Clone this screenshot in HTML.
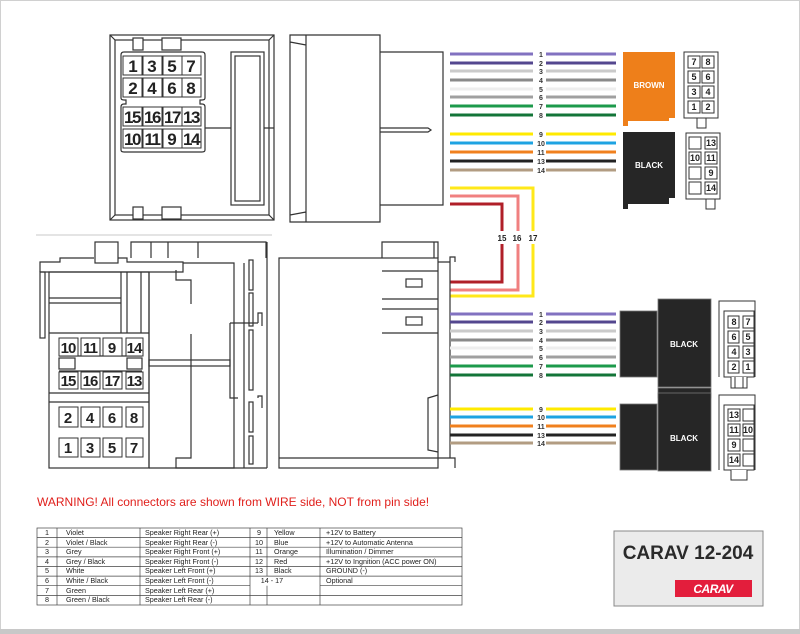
<!DOCTYPE html>
<html><head><meta charset="utf-8"><style>
html,body{margin:0;padding:0;background:#fff}
svg{display:block}
text{font-family:"Liberation Sans",sans-serif}
</style></head><body>
<svg width="800" height="634" viewBox="0 0 800 634" xmlns="http://www.w3.org/2000/svg">
<rect x="0.5" y="0.5" width="799" height="633" fill="#fff" stroke="#d0d0d0"/>
<rect x="0" y="629" width="800" height="5" fill="#c8c8c8"/>

<!-- Top-left connector -->
<g fill="none" stroke="#333" stroke-width="1.2">
<rect x="110" y="35" width="164" height="185"/>
<rect x="115" y="40" width="154" height="175"/>
<path d="M110 35 L115 40 M274 35 L269 40 M110 220 L115 215 M274 220 L269 215"/>
<rect x="133" y="38" width="10" height="12" fill="#fff"/>
<rect x="162" y="38" width="19" height="12" fill="#fff"/>
<rect x="133" y="207" width="10" height="12" fill="#fff"/>
<rect x="162" y="207" width="19" height="12" fill="#fff"/>
<path d="M124 52 H202 Q205 52 205 55 V98 Q205 100 202 100 H200 V104 H202 Q205 104 205 107 V150 Q205 152 202 152 H124 Q121 152 121 150 V107 Q121 104 124 104 H126 V100 H124 Q121 100 121 98 V55 Q121 52 124 52 Z"/>
<rect x="231" y="52" width="33" height="153"/>
<rect x="235" y="56" width="25" height="145"/>
<path d="M205 128 H231 M264 128 H274"/>
<path d="M290 35 H380 V222 H290 Z M306 35 V222 M290 42 L306 45 M290 215 L306 212 M380 52 H443 V205 H380 M380 128 H428 L431 130 L428 132 H380"/>
</g>
<g font-weight="bold" font-size="17" text-anchor="middle" fill="#222">
<g fill="#fff" stroke="#333" stroke-width="1"><rect x="123" y="56" width="19" height="19"/><rect x="143" y="56" width="19" height="19"/><rect x="163" y="56" width="19" height="19"/><rect x="182" y="56" width="19" height="19"/>
<rect x="123" y="78" width="19" height="19"/><rect x="143" y="78" width="19" height="19"/><rect x="163" y="78" width="19" height="19"/><rect x="182" y="78" width="19" height="19"/>
<rect x="123" y="107" width="19" height="19"/><rect x="143" y="107" width="19" height="19"/><rect x="163" y="107" width="19" height="19"/><rect x="182" y="107" width="19" height="19"/>
<rect x="123" y="129" width="19" height="19"/><rect x="143" y="129" width="19" height="19"/><rect x="163" y="129" width="19" height="19"/><rect x="182" y="129" width="19" height="19"/></g>
<text x="133" y="72">1</text><text x="152" y="72">3</text><text x="172" y="72">5</text><text x="191" y="72">7</text>
<text x="133" y="94">2</text><text x="152" y="94">4</text><text x="172" y="94">6</text><text x="191" y="94">8</text>
<g letter-spacing="-1.5"><text x="132" y="123">15</text><text x="152" y="123">16</text><text x="172" y="123">17</text><text x="191" y="123">13</text>
<text x="132" y="145">10</text><text x="152" y="145">11</text></g><text x="172" y="145">9</text><text x="191" y="145" letter-spacing="-1.5">14</text>
</g>

<!-- top wires -->
<g stroke-width="3">
<path d="M450 54H533M546 54H616" stroke="#8272c0"/>
<path d="M450 63H533M546 63H616" stroke="#54478f"/>
<path d="M450 71H533M546 71H616" stroke="#cacaca"/>
<path d="M450 80H533M546 80H616" stroke="#8a8a8a"/>
<path d="M450 89H533M546 89H616" stroke="#eeeeee"/>
<path d="M450 97H533M546 97H616" stroke="#a0a0a0"/>
<path d="M450 106H533M546 106H616" stroke="#1d9a4b"/>
<path d="M450 115H533M546 115H616" stroke="#137538"/>
<path d="M450 134H533M546 134H616" stroke="#ffea00"/>
<path d="M450 143H533M546 143H616" stroke="#1ea3e2"/>
<path d="M450 152H533M546 152H616" stroke="#f0801e"/>
<path d="M450 161H533M546 161H616" stroke="#232323"/>
<path d="M450 170H533M546 170H616" stroke="#b29c82"/>
</g>
<g font-size="7" font-weight="bold" text-anchor="middle" fill="#333">
<text x="541" y="57">1</text><text x="541" y="66">2</text><text x="541" y="74">3</text><text x="541" y="83">4</text><text x="541" y="92">5</text><text x="541" y="100">6</text><text x="541" y="109">7</text><text x="541" y="118">8</text>
<text x="541" y="137">9</text><text x="541" y="146">10</text><text x="541" y="155">11</text><text x="541" y="164">13</text><text x="541" y="173">14</text>
</g>
<!-- 15 16 17 -->
<g fill="none" stroke-width="3">
<path d="M450 188H533V231M533 244V296H450" stroke="#ffe81a"/>
<path d="M450 196H518V231M518 244V290H450" stroke="#f08080"/>
<path d="M450 204H502V231M502 244V282H450" stroke="#b01f28"/>
</g>
<g font-size="8" font-weight="bold" text-anchor="middle" fill="#222"><text x="502" y="241">15</text><text x="517" y="241">16</text><text x="533" y="241">17</text></g>

<!-- brown/black connectors top -->
<path d="M623 52H675V118H669V121H628V126H623Z" fill="#ee7f1a"/>
<text x="649" y="88" font-size="8" font-weight="bold" fill="#fff" text-anchor="middle">BROWN</text>
<path d="M623 132H675V198H669V204H628V209H623Z" fill="#262626"/>
<text x="649" y="168" font-size="8" font-weight="bold" fill="#fff" text-anchor="middle">BLACK</text>
<g fill="#fff" stroke="#333" stroke-width="1">
<rect x="684" y="52" width="34" height="66"/>
<rect x="697" y="118" width="9" height="10"/>
<rect x="686" y="133" width="34" height="66"/>
<rect x="706" y="199" width="9" height="10"/>
</g>
<g font-size="9" font-weight="bold" text-anchor="middle" fill="#222">
<g fill="#fff" stroke="#333" stroke-width="1">
<rect x="688" y="56" width="12" height="12"/><rect x="702" y="56" width="12" height="12"/>
<rect x="688" y="71" width="12" height="12"/><rect x="702" y="71" width="12" height="12"/>
<rect x="688" y="86" width="12" height="12"/><rect x="702" y="86" width="12" height="12"/>
<rect x="688" y="101" width="12" height="12"/><rect x="702" y="101" width="12" height="12"/>
<rect x="689" y="137" width="12" height="12"/><rect x="705" y="137" width="12" height="12"/>
<rect x="689" y="152" width="12" height="12"/><rect x="705" y="152" width="12" height="12"/>
<rect x="689" y="167" width="12" height="12"/><rect x="705" y="167" width="12" height="12"/>
<rect x="689" y="182" width="12" height="12"/><rect x="705" y="182" width="12" height="12"/></g>
<text x="694" y="65">7</text><text x="708" y="65">8</text><text x="694" y="80">5</text><text x="708" y="80">6</text>
<text x="694" y="95">3</text><text x="708" y="95">4</text><text x="694" y="110">1</text><text x="708" y="110">2</text>
<text x="711" y="146">13</text><text x="695" y="161">10</text><text x="711" y="161">11</text><text x="711" y="176">9</text><text x="711" y="191">14</text>
</g>

<!-- bottom-left connector -->
<path d="M36 235H272" stroke="#e4e4e4" stroke-width="2"/>
<g fill="none" stroke="#333" stroke-width="1.2">
<rect x="95" y="242" width="23" height="21"/>
<path d="M131 258V242H266V258M151 242V258M168 242V258M198 242V258"/>
<path d="M40 272V262H60V258H94M118 258H127V262H183V272H40"/>
<rect x="40" y="272" width="5" height="66"/>
<rect x="49" y="272" width="100" height="196"/>
<path d="M121 272V333M127 272V333M141 272V333M49 298H121M49 303H121M49 333H149M49 393H149M49 402H149"/>
<path d="M149 272V468M183 263H234V468H176V458H191V334M191 304V280H176V270"/>
<path d="M244 263V468M267 242V468M149 468H267"/>
<rect x="149" y="360" width="81" height="6"/>
<path d="M230 323V398H238"/>
<path d="M230 323H258"/>
<rect x="249" y="260" width="4" height="30"/><rect x="249" y="293" width="4" height="33"/><rect x="249" y="330" width="4" height="60"/><rect x="249" y="402" width="4" height="30"/><rect x="249" y="436" width="4" height="28"/>
<path d="M258 323V313H262V326M258 398V396H262V408"/>
<rect x="59" y="358" width="16" height="11"/><rect x="127" y="358" width="15" height="11"/>
<path d="M59 356H142M59 371H142"/>
</g>
<g font-weight="bold" font-size="15" text-anchor="middle" fill="#222">
<g fill="#fff" stroke="#333" stroke-width="1">
<rect x="59" y="338" width="19" height="18"/><rect x="81" y="338" width="19" height="18"/><rect x="103" y="338" width="19" height="18"/><rect x="126" y="338" width="17" height="18"/>
<rect x="59" y="372" width="19" height="17"/><rect x="81" y="372" width="19" height="17"/><rect x="103" y="372" width="19" height="17"/><rect x="126" y="372" width="17" height="17"/>
<rect x="59" y="407" width="19" height="20"/><rect x="81" y="407" width="19" height="20"/><rect x="103" y="407" width="19" height="20"/><rect x="126" y="407" width="17" height="20"/>
<rect x="59" y="438" width="19" height="19"/><rect x="81" y="438" width="19" height="19"/><rect x="103" y="438" width="19" height="19"/><rect x="126" y="438" width="17" height="19"/></g>
<g letter-spacing="-1"><text x="68" y="353">10</text><text x="90" y="353">11</text><text x="134" y="353">14</text>
<text x="68" y="386">15</text><text x="90" y="386">16</text><text x="112" y="386">17</text><text x="134" y="386">13</text></g>
<text x="112" y="353">9</text>
<text x="68" y="423">2</text><text x="90" y="423">4</text><text x="112" y="423">6</text><text x="134" y="423">8</text>
<text x="68" y="453">1</text><text x="90" y="453">3</text><text x="112" y="453">5</text><text x="134" y="453">7</text>
</g>

<!-- bottom side view -->
<g fill="none" stroke="#333" stroke-width="1.2">
<rect x="279" y="258" width="159" height="210"/>
<path d="M279 458H438M382 258V242H434V258M434 242H438V258M438 262H450V458H450M438 458H455V468M450 262V257H455V262"/>
<path d="M382 271H438M382 299H438M382 309H438M382 333H438M438 395L428 398V450L438 452"/>
<rect x="406" y="279" width="16" height="8"/><rect x="406" y="317" width="16" height="8"/>
</g>

<!-- bottom wires -->
<g stroke-width="3">
<path d="M450 314H533M546 314H616" stroke="#8272c0"/>
<path d="M450 322H533M546 322H616" stroke="#54478f"/>
<path d="M450 331H533M546 331H616" stroke="#cacaca"/>
<path d="M450 340H533M546 340H616" stroke="#8a8a8a"/>
<path d="M450 348H533M546 348H616" stroke="#eeeeee"/>
<path d="M450 357H533M546 357H616" stroke="#a0a0a0"/>
<path d="M450 366H533M546 366H616" stroke="#1d9a4b"/>
<path d="M450 375H533M546 375H616" stroke="#137538"/>
<path d="M450 409H533M546 409H616" stroke="#ffea00"/>
<path d="M450 417H533M546 417H616" stroke="#1ea3e2"/>
<path d="M450 426H533M546 426H616" stroke="#f0801e"/>
<path d="M450 435H533M546 435H616" stroke="#232323"/>
<path d="M450 443H533M546 443H616" stroke="#b29c82"/>
</g>
<g font-size="7" font-weight="bold" text-anchor="middle" fill="#333">
<text x="541" y="317">1</text><text x="541" y="325">2</text><text x="541" y="334">3</text><text x="541" y="343">4</text><text x="541" y="351">5</text><text x="541" y="360">6</text><text x="541" y="369">7</text><text x="541" y="378">8</text>
<text x="541" y="412">9</text><text x="541" y="420">10</text><text x="541" y="429">11</text><text x="541" y="438">13</text><text x="541" y="446">14</text>
</g>
<g fill="#262626" stroke="#777" stroke-width="0.8">
<rect x="620" y="311" width="37" height="66"/><rect x="658" y="299" width="53" height="88"/><rect x="658" y="388" width="53" height="10"/>
<rect x="620" y="404" width="37" height="66"/><rect x="658" y="393" width="53" height="78"/>
</g>
<g font-size="8" font-weight="bold" fill="#fff" text-anchor="middle"><text x="684" y="347">BLACK</text><text x="684" y="441">BLACK</text></g>
<g fill="#fff" stroke="#333" stroke-width="1">
<path d="M719 377V301H755V377"/><rect x="724" y="311" width="30" height="66"/><path d="M731 377V388H747V377M735 377V388H743V377"/>
<path d="M719 470V395H755V470"/><rect x="724" y="405" width="30" height="65"/><path d="M731 470V480H747V470"/>
</g>
<g font-size="9" font-weight="bold" text-anchor="middle" fill="#222">
<g fill="#fff" stroke="#333" stroke-width="1">
<rect x="728" y="316" width="11" height="12"/><rect x="743" y="316" width="11" height="12"/>
<rect x="728" y="331" width="11" height="12"/><rect x="743" y="331" width="11" height="12"/>
<rect x="728" y="346" width="11" height="12"/><rect x="743" y="346" width="11" height="12"/>
<rect x="728" y="361" width="11" height="12"/><rect x="743" y="361" width="11" height="12"/>
<rect x="728" y="409" width="12" height="12"/><rect x="743" y="409" width="11" height="12"/>
<rect x="728" y="424" width="12" height="12"/><rect x="743" y="424" width="11" height="12"/>
<rect x="728" y="439" width="12" height="12"/><rect x="743" y="439" width="11" height="12"/>
<rect x="728" y="454" width="12" height="12"/><rect x="743" y="454" width="11" height="12"/></g>
<text x="734" y="325">8</text><text x="748" y="325">7</text><text x="734" y="340">6</text><text x="748" y="340">5</text>
<text x="734" y="355">4</text><text x="748" y="355">3</text><text x="734" y="370">2</text><text x="748" y="370">1</text>
<text x="734" y="418">13</text><text x="734" y="433">11</text><text x="748" y="433">10</text><text x="734" y="448">9</text><text x="734" y="463">14</text>
</g>

<text x="37" y="506" font-size="12" fill="#e0201c">WARNING! All connectors are shown from WIRE side, NOT from pin side!</text>

<!-- table -->
<g stroke="#444" stroke-width="0.7" fill="none">
<rect x="37" y="528" width="425" height="77"/>
<path d="M37 537.6H462M37 547.2H462M37 556.9H462M37 566.5H462M37 576.1H462M37 585.7H250M320 585.7H462M37 595.4H462"/>
<path d="M57 528V605M140 528V605M250 528V605M267 528V576.1M267 585.7V605M320 528V605"/>
</g>
<g font-size="7.2" fill="#222">
<g text-anchor="middle"><text x="47" y="535">1</text><text x="47" y="545">2</text><text x="47" y="554">3</text><text x="47" y="564">4</text><text x="47" y="573">5</text><text x="47" y="583">6</text><text x="47" y="593">7</text><text x="47" y="602">8</text>
<text x="259" y="535">9</text><text x="259" y="545">10</text><text x="259" y="554">11</text><text x="259" y="564">12</text><text x="259" y="573">13</text><text x="272" y="583">14 - 17</text></g>
<text x="66" y="535">Violet</text><text x="66" y="545">Violet / Black</text><text x="66" y="554">Grey</text><text x="66" y="564">Grey / Black</text><text x="66" y="573">White</text><text x="66" y="583">White / Black</text><text x="66" y="593">Green</text><text x="66" y="602">Green / Black</text>
<text x="145" y="535">Speaker Right Rear (+)</text><text x="145" y="545">Speaker Right Rear (-)</text><text x="145" y="554">Speaker Right Front (+)</text><text x="145" y="564">Speaker Right Front (-)</text><text x="145" y="573">Speaker Left Front (+)</text><text x="145" y="583">Speaker Left Front (-)</text><text x="145" y="593">Speaker Left Rear (+)</text><text x="145" y="602">Speaker Left Rear (-)</text>
<text x="274" y="535">Yellow</text><text x="274" y="545">Blue</text><text x="274" y="554">Orange</text><text x="274" y="564">Red</text><text x="274" y="573">Black</text>
<text x="326" y="535">+12V to Battery</text><text x="326" y="545">+12V to Automatic Antenna</text><text x="326" y="554">Illumination / Dimmer</text><text x="326" y="564">+12V to Ingnition (ACC power ON)</text><text x="326" y="573">GROUND (-)</text><text x="326" y="583">Optional</text>
</g>

<!-- CARAV box -->
<rect x="614" y="531" width="149" height="75" fill="#ebebeb" stroke="#888" stroke-width="1"/>
<text x="688" y="559" font-size="19" font-weight="bold" fill="#2a2a2a" text-anchor="middle">CARAV 12-204</text>
<rect x="675" y="580" width="77" height="17" fill="#e31e3c"/>
<text x="713" y="593" font-size="12" font-weight="bold" font-style="italic" fill="#fff" text-anchor="middle" letter-spacing="-0.5">CARAV</text>
</svg>
</body></html>
